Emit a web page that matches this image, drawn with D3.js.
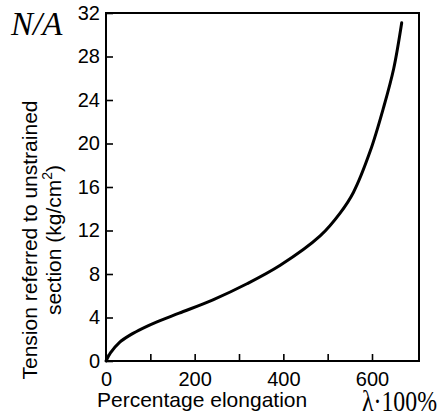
<!DOCTYPE html>
<html>
<head>
<meta charset="utf-8">
<script src="https://cdn.jsdelivr.net/npm/d3@7"></script>
<style>
  body { margin: 0; background: #fff; }
  svg { display: block; }
</style>
</head>
<body>
<script>
// curve: elongation (%) vs tension (kg/cm^2)
var elongation = [0, 10, 30, 55, 85, 115, 165, 240, 318, 393, 483, 528, 558, 596, 626, 649, 667];
var tension    = [0, 0.75, 1.7, 2.4, 3.05, 3.6, 4.4, 5.6, 7.1, 8.8, 11.5, 13.6, 15.5, 19.3, 23.3, 26.9, 31.1];
var xTicks = [0, 100, 200, 300, 400, 500, 600];
var xLabels = [0, 200, 400, 600];
var yTicks = [0, 4, 8, 12, 16, 20, 24, 28, 32];

var W = 443, H = 419;
var plotLeft = 106, plotRight = 419, plotTop = 13, plotBottom = 361;

var xScale = d3.scaleLinear().domain([0, 706]).range([plotLeft, plotRight]);
var yScale = d3.scaleLinear().domain([0, 32]).range([plotBottom, plotTop]);

var svg = d3.select("body").append("svg")
  .attr("width", W)
  .attr("height", H);

var sans = "'Liberation Sans', Arial, sans-serif";
var serif = "'Liberation Serif', 'Times New Roman', serif";

// y axis, ticks pointing inward
var yAxis = d3.axisLeft(yScale)
  .tickValues(yTicks)
  .tickSizeInner(-7)
  .tickSizeOuter(0)
  .tickPadding(6);
svg.append("g")
  .attr("transform", "translate(" + plotLeft + ",0)")
  .call(yAxis);

var xAxis = d3.axisBottom(xScale)
  .tickValues(xTicks)
  .tickSizeInner(-7)
  .tickSizeOuter(0)
  .tickPadding(11)
  .tickFormat(function(d){ return xLabels.indexOf(d) >= 0 ? d : ""; });
svg.append("g")
  .attr("transform", "translate(0," + plotBottom + ")")
  .call(xAxis);

svg.selectAll(".domain").remove();
svg.selectAll(".tick line").attr("stroke", "#000").attr("stroke-width", 1.6);
svg.selectAll(".tick text")
  .attr("font-family", sans)
  .attr("font-size", "20px")
  .attr("fill", "#000");

// frame
svg.append("rect")
  .attr("x", plotLeft)
  .attr("y", plotTop)
  .attr("width", plotRight - plotLeft)
  .attr("height", plotBottom - plotTop)
  .attr("fill", "none")
  .attr("stroke", "#000")
  .attr("stroke-width", 2);

// the curve
var pts = elongation.map(function(d, i){ return [d, tension[i]]; });
var line = d3.line()
  .x(function(d){ return xScale(d[0]); })
  .y(function(d){ return yScale(d[1]); })
  .curve(d3.curveCatmullRom.alpha(0.5));
svg.append("path")
  .datum(pts)
  .attr("d", line)
  .attr("fill", "none")
  .attr("stroke", "#000")
  .attr("stroke-width", 3)
  .attr("stroke-linecap", "round");

// y title, two lines
svg.append("text")
  .attr("transform", "translate(37,240) rotate(-90)")
  .attr("text-anchor", "middle")
  .attr("font-family", sans)
  .attr("font-size", "21px")
  .attr("fill", "#000")
  .text("Tension referred to unstrained");
var t2 = svg.append("text")
  .attr("transform", "translate(61,240) rotate(-90)")
  .attr("text-anchor", "middle")
  .attr("font-family", sans)
  .attr("font-size", "21px")
  .attr("fill", "#000");
t2.append("tspan").text("section (kg/cm");
t2.append("tspan").attr("font-size", "14px").attr("dy", -9).text("2");
t2.append("tspan").attr("dy", 9).text(")");

// x title
svg.append("text")
  .attr("x", 97)
  .attr("y", 407)
  .attr("font-family", sans)
  .attr("font-size", "21px")
  .attr("fill", "#000")
  .text("Percentage elongation");
svg.append("text")
  .attr("x", 362)
  .attr("y", 411)
  .attr("font-family", serif)
  .attr("font-size", "29px")
  .attr("textLength", 75)
  .attr("lengthAdjust", "spacingAndGlyphs")
  .attr("fill", "#000")
  .text("λ·100%");

// N/A corner label
svg.append("text")
  .attr("x", 11)
  .attr("y", 35)
  .attr("font-family", serif)
  .attr("font-style", "italic")
  .attr("font-size", "33px")
  .attr("fill", "#000")
  .text("N/A");
</script>
</body>
</html>
